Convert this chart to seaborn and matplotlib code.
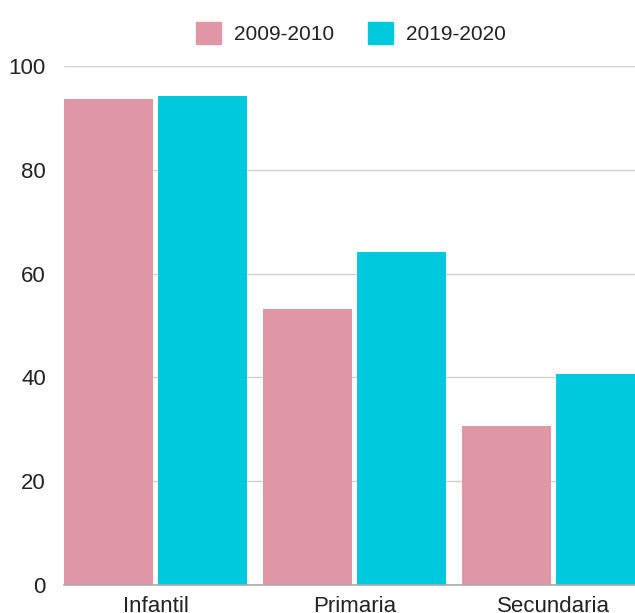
import matplotlib
matplotlib.use("Agg")
import matplotlib.pyplot as plt
import seaborn as sns
import pandas as pd

# Tasa de escolarización por etapa educativa (%)
etapas = ["Infantil", "Primaria", "Secundaria"]
curso_2009_2010 = [93.6, 53.2, 30.6]
curso_2019_2020 = [94.3, 64.2, 40.7]
cursos = ["2009-2010", "2019-2020"]
colores = ["#DF97A5", "#00C9DD"]
y_ticks = [0, 20, 40, 60, 80, 100]

df = pd.DataFrame({
    "etapa": etapas * 2,
    "curso": [cursos[0]] * len(etapas) + [cursos[1]] * len(etapas),
    "valor": curso_2009_2010 + curso_2019_2020,
})

sns.set_theme(style="white")
plt.rcParams["font.family"] = ["Liberation Sans", "DejaVu Sans"]

fig = plt.figure(figsize=(6.35, 6.13), dpi=100)
ax = fig.add_axes([64 / 635, 28 / 613, 1 - 64 / 635, 519 / 613])

sns.barplot(data=df, x="etapa", y="valor", hue="curso", hue_order=cursos,
            palette=colores, width=0.94, gap=0.05, saturation=1,
            linewidth=0, ax=ax, legend=False)

ax.set_ylim(0, 100)
ax.set_xlim(-0.46, 2.41)
ax.set_yticks(y_ticks)
ax.set_yticklabels([str(v) for v in y_ticks])
ax.set_xlabel("")
ax.set_ylabel("")
ax.yaxis.grid(True, color="#D0D0D0", linewidth=1)
ax.set_axisbelow(True)
for side in ["left", "right", "top"]:
    ax.spines[side].set_visible(False)
ax.spines["bottom"].set_color("#AAAAAA")
ax.spines["bottom"].set_linewidth(1.2)
ax.spines["bottom"].set_zorder(5)
ax.tick_params(axis="both", length=0, labelsize=16, colors="#222222")
ax.tick_params(axis="y", pad=13)
ax.tick_params(axis="x", pad=8)

handles = [plt.Rectangle((0, 0), 1, 1, color=c) for c in colores]
fig.legend(handles, cursos, loc="center", bbox_to_anchor=(351 / 635, 1 - 33 / 613),
           ncol=2, frameon=False, fontsize=15, handlelength=1.2, handleheight=1.2,
           handletextpad=0.65, columnspacing=1.6, labelcolor="#222222")

fig.savefig("out.png", dpi=100)
